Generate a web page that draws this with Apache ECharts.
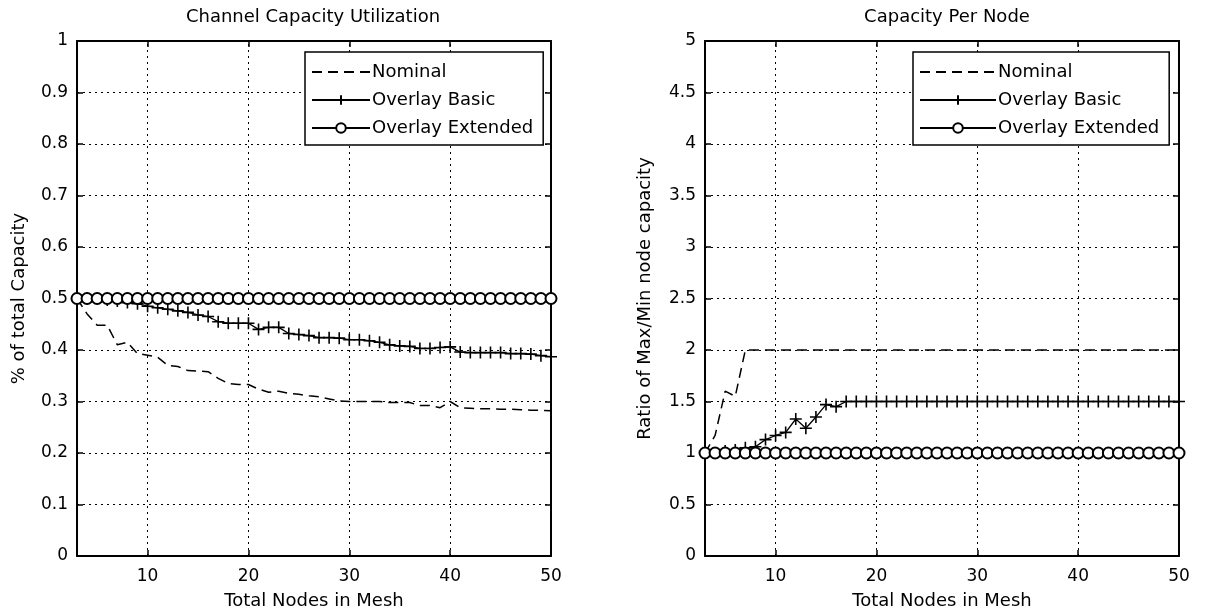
<!DOCTYPE html>
<html>
<head>
<meta charset="utf-8">
<script src="https://cdn.jsdelivr.net/npm/echarts@6/dist/echarts.min.js"></script>
<style>html,body{margin:0;padding:0;background:#fff;}#c{width:1207px;height:615px;}</style>
</head>
<body>
<div id="c"></div>
<script>
const nodes = [3,4,5,6,7,8,9,10,11,12,13,14,15,16,17,18,19,20,21,22,23,24,25,26,27,28,29,30,31,32,33,34,35,36,37,38,39,40,41,42,43,44,45,46,47,48,49,50];
const capNominal = [0.5,0.47,0.448,0.448,0.41,0.415,0.393,0.39,0.386,0.37,0.368,0.36,0.359,0.358,0.345,0.335,0.333,0.333,0.324,0.318,0.32,0.316,0.314,0.311,0.309,0.305,0.301,0.3,0.3,0.3,0.3,0.298,0.298,0.298,0.292,0.292,0.288,0.3,0.288,0.287,0.286,0.286,0.285,0.285,0.284,0.283,0.283,0.282];
const capBasic = [0.5,0.5,0.5,0.497,0.495,0.492,0.49,0.485,0.482,0.479,0.476,0.473,0.468,0.465,0.455,0.452,0.452,0.452,0.44,0.444,0.444,0.432,0.43,0.428,0.424,0.424,0.423,0.42,0.42,0.418,0.415,0.41,0.408,0.407,0.403,0.403,0.405,0.406,0.396,0.395,0.395,0.395,0.395,0.393,0.393,0.392,0.389,0.387];
const capExtended = [0.5,0.5,0.5,0.5,0.5,0.5,0.5,0.5,0.5,0.5,0.5,0.5,0.5,0.5,0.5,0.5,0.5,0.5,0.5,0.5,0.5,0.5,0.5,0.5,0.5,0.5,0.5,0.5,0.5,0.5,0.5,0.5,0.5,0.5,0.5,0.5,0.5,0.5,0.5,0.5,0.5,0.5,0.5,0.5,0.5,0.5,0.5,0.5];
const ratioNominal = [1.0,1.17,1.6,1.55,2.0,2.0,2.0,2.0,2.0,2.0,2.0,2.0,2.0,2.0,2.0,2.0,2.0,2.0,2.0,2.0,2.0,2.0,2.0,2.0,2.0,2.0,2.0,2.0,2.0,2.0,2.0,2.0,2.0,2.0,2.0,2.0,2.0,2.0,2.0,2.0,2.0,2.0,2.0,2.0,2.0,2.0,2.0,2.0];
const ratioBasic = [1.0,1.0,1.02,1.03,1.05,1.06,1.13,1.17,1.2,1.33,1.24,1.35,1.47,1.45,1.5,1.5,1.5,1.5,1.5,1.5,1.5,1.5,1.5,1.5,1.5,1.5,1.5,1.5,1.5,1.5,1.5,1.5,1.5,1.5,1.5,1.5,1.5,1.5,1.5,1.5,1.5,1.5,1.5,1.5,1.5,1.5,1.5,1.5];
const ratioExtended = [1,1,1,1,1,1,1,1,1,1,1,1,1,1,1,1,1,1,1,1,1,1,1,1,1,1,1,1,1,1,1,1,1,1,1,1,1,1,1,1,1,1,1,1,1,1,1,1];
const xTicks = [10,20,30,40,50];
const xGridLines = [10,20,30,40];
const seriesNames = ['Nominal','Overlay Basic','Overlay Extended'];
const titles = ['Channel Capacity Utilization','Capacity Per Node'];
const yNames = ['% of total Capacity','Ratio of Max/Min node capacity'];
const xName = 'Total Nodes in Mesh';

const FONT = 'DejaVu Sans';
const plusPath = 'path://M0,-10L0,10M-10,0L10,0';
const zip = (ys) => nodes.map((x, i) => [x, ys[i]]);

const grids = [
  {left: 77, top: 41, width: 474, height: 516},
  {left: 705, top: 41, width: 474, height: 516}
];
const yCfg = [{min: 0, max: 1, interval: 0.1}, {min: 0, max: 5, interval: 0.5}];

const xAxes = [], yAxes = [], series = [], legends = [], titleArr = [];
for (let g = 0; g < 2; g++) {
  xAxes.push({
    type: 'value', gridIndex: g, min: 3, max: 50, position: 'bottom',
    name: xName, nameLocation: 'middle', nameGap: 36,
    nameTextStyle: {fontFamily: FONT, fontSize: 18, color: '#000'},
    axisLine: {show: true, onZero: false, lineStyle: {color: '#000', width: 2}},
    axisTick: {show: true, inside: true, length: 6, customValues: xTicks, lineStyle: {color: '#000', width: 1.5}},
    axisLabel: {show: true, customValues: xTicks, margin: 12, fontFamily: FONT, fontSize: 17, color: '#000'},
    splitLine: {show: false}
  });
  xAxes.push({
    type: 'value', gridIndex: g, min: 3, max: 50, position: 'top',
    axisLine: {show: true, onZero: false, lineStyle: {color: '#000', width: 2}},
    axisTick: {show: true, inside: true, length: 6, customValues: xTicks, lineStyle: {color: '#000', width: 1.5}},
    axisLabel: {show: false},
    splitLine: {show: false}
  });
  yAxes.push({
    type: 'value', gridIndex: g, min: yCfg[g].min, max: yCfg[g].max, interval: yCfg[g].interval, position: 'left',
    name: yNames[g], nameLocation: 'middle', nameGap: g === 0 ? 49 : 51,
    nameTextStyle: {fontFamily: FONT, fontSize: 18, color: '#000'},
    axisLine: {show: true, onZero: false, lineStyle: {color: '#000', width: 2}},
    axisTick: {show: true, inside: true, length: 6, lineStyle: {color: '#000', width: 1.5}},
    axisLabel: {show: true, margin: 9, fontFamily: FONT, fontSize: 17, color: '#000'},
    splitLine: {show: true, lineStyle: {color: '#000', width: 1, type: [2, 4]}}
  });
  yAxes.push({
    type: 'value', gridIndex: g, min: yCfg[g].min, max: yCfg[g].max, interval: yCfg[g].interval, position: 'right',
    axisLine: {show: true, onZero: false, lineStyle: {color: '#000', width: 2}},
    axisTick: {show: true, inside: true, length: 6, lineStyle: {color: '#000', width: 1.5}},
    axisLabel: {show: false},
    splitLine: {show: false}
  });
  const xi = g * 2, yi = g * 2;
  const d = g === 0 ? [capNominal, capBasic, capExtended] : [ratioNominal, ratioBasic, ratioExtended];
  series.push({
    name: seriesNames[0], type: 'line', xAxisIndex: xi, yAxisIndex: yi, data: zip(d[0]),
    symbol: 'none', color: '#000', lineStyle: {color: '#000', width: 1.5, type: [10, 6]}, z: 3,
    markLine: {
      silent: true, symbol: 'none', label: {show: false},
      lineStyle: {color: '#000', width: 1, type: [2, 4]},
      emphasis: {disabled: true},
      data: xGridLines.map(v => ({xAxis: v}))
    }
  });
  series.push({
    name: seriesNames[1], type: 'line', xAxisIndex: xi, yAxisIndex: yi, data: zip(d[1]),
    symbol: plusPath, symbolSize: 12, showAllSymbol: true, color: '#000',
    itemStyle: {color: '#000', borderColor: '#000', borderWidth: 1.6},
    lineStyle: {color: '#000', width: 1.3}, z: 4
  });
  series.push({
    name: seriesNames[2], type: 'line', xAxisIndex: xi, yAxisIndex: yi, data: zip(d[2]),
    symbol: 'emptyCircle', symbolSize: 11, showAllSymbol: true, color: '#000',
    itemStyle: {color: '#000', borderColor: '#000', borderWidth: 1.4},
    lineStyle: {color: '#000', width: 1.3}, z: 5
  });
  legends.push({
    data: [
      {name: seriesNames[0], itemStyle: {opacity: 0}},
      {name: seriesNames[1]},
      {name: seriesNames[2]}
    ],
    orient: 'vertical',
    left: g === 0 ? 305 : 913,
    top: 52,
    padding: [11, 10, 8, 6],
    itemGap: 10,
    itemWidth: g === 0 ? 58 : 76,
    itemHeight: 12,
    backgroundColor: '#fff',
    borderColor: '#000',
    borderWidth: 1.5,
    textStyle: {fontFamily: FONT, fontSize: 18, color: '#000', padding: [0, 0, 0, -3]},
    selectedMode: false,
    z: 10
  });
  titleArr.push({
    text: titles[g],
    left: g === 0 ? 308 : 942,
    top: 3,
    textAlign: 'center',
    textStyle: {fontFamily: FONT, fontSize: 18, fontWeight: 'normal', color: '#000'}
  });
}

const chart = echarts.init(document.getElementById('c'), null, {renderer: 'canvas'});
chart.setOption({
  animation: false,
  backgroundColor: '#fff',
  title: titleArr,
  legend: legends,
  grid: grids,
  xAxis: xAxes,
  yAxis: yAxes,
  series: series
});
</script>
</body>
</html>
